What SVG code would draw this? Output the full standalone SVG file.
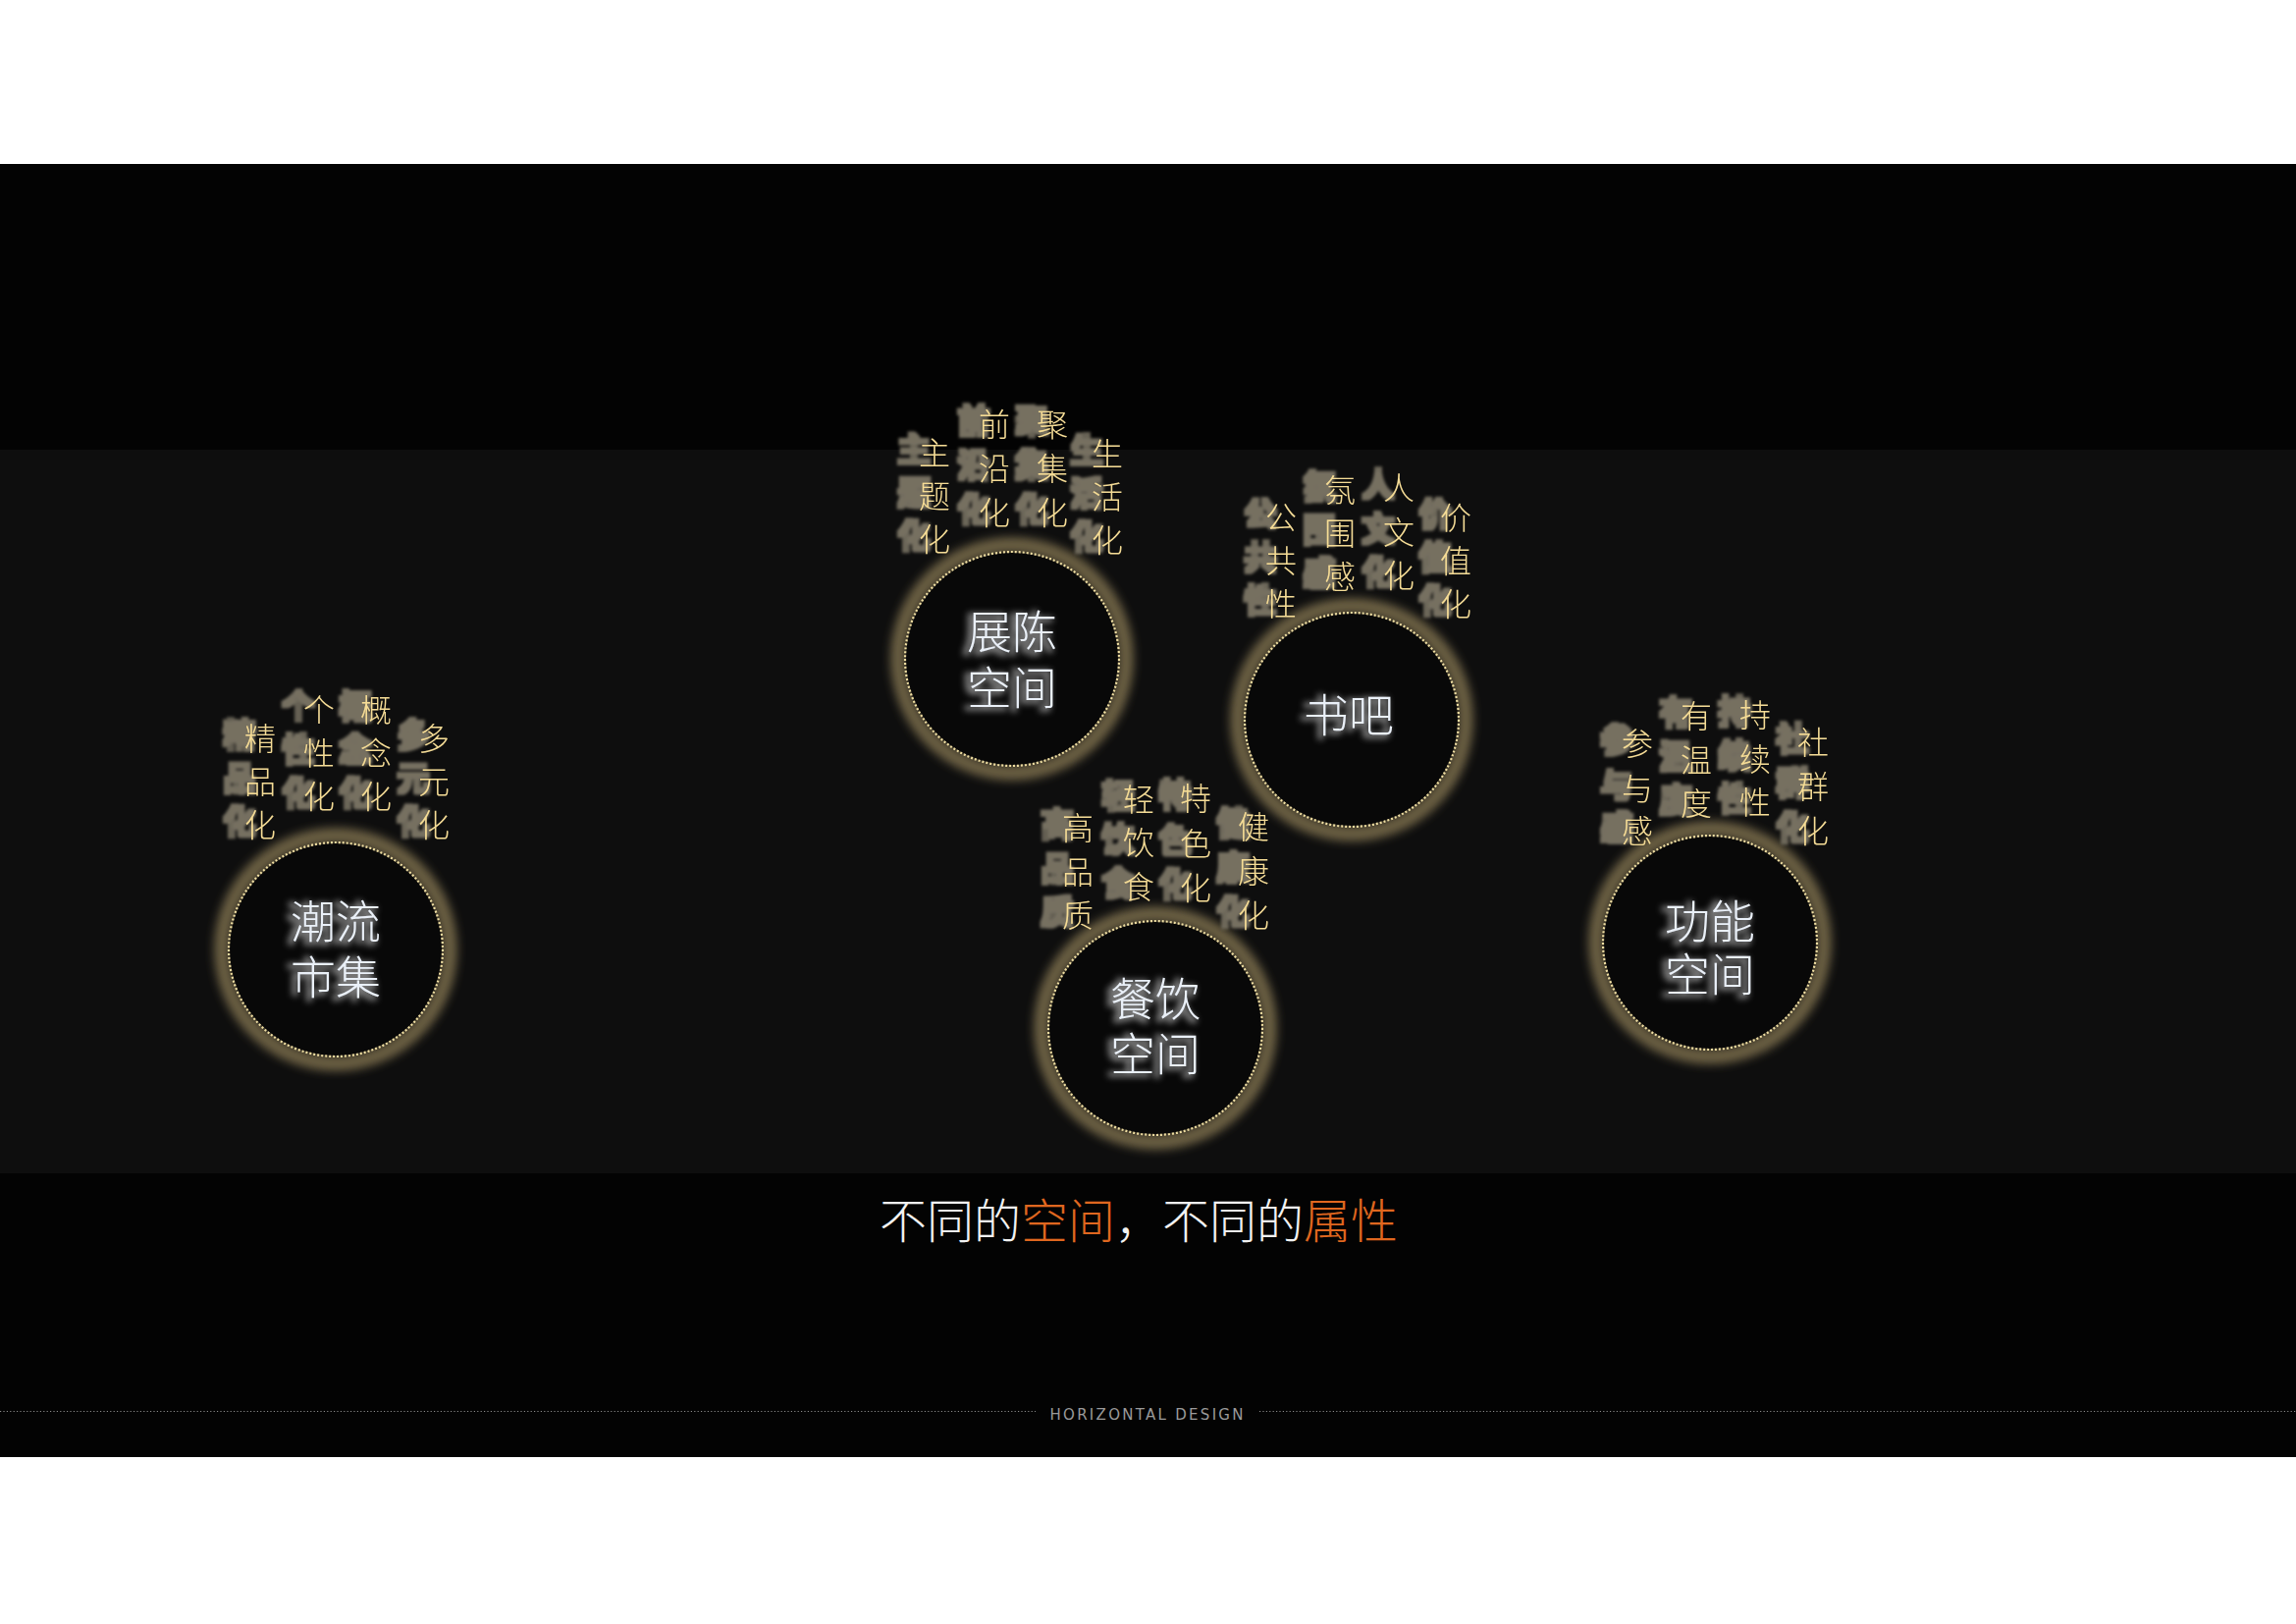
<svg xmlns="http://www.w3.org/2000/svg" width="2339" height="1654" viewBox="0 0 2339 1654">
<defs>
<style>
.kw{font-family:"Noto Sans CJK SC","Noto Sans CJK JP",sans-serif;font-size:32px;font-weight:300;fill:#f5dc96;text-anchor:middle;filter:url(#kwShadow)}
.lbl{font-family:"Noto Sans CJK SC","Noto Sans CJK JP",sans-serif;font-size:46px;font-weight:300;fill:#eaf0f8;text-anchor:middle;filter:url(#lblGlow)}
.glow{fill:none;stroke:#6a5e42;stroke-width:16;filter:url(#ringGlow)}
.disc{fill:#080808}
.ring{fill:none;stroke:#efdea2;stroke-width:2.2;stroke-dasharray:2 2}
.title{font-family:"Noto Sans CJK SC","Noto Sans CJK JP",sans-serif;font-size:48px;font-weight:300;fill:#f2f2f2;text-anchor:middle}
.org{fill:#e0671f}
.foot{font-family:"DejaVu Sans","Liberation Sans",sans-serif;font-size:15px;fill:#9a9a9a;text-anchor:middle}
.dots{stroke:#8a8a8a;stroke-width:1.2;stroke-dasharray:1.2 2.2}
</style>
<filter id="kwShadow" x="-150%" y="-20%" width="300%" height="140%">
<feMorphology in="SourceAlpha" operator="dilate" radius="3" result="d"/>
<feGaussianBlur in="d" stdDeviation="1.8" result="b"/>
<feOffset in="b" dx="-21" dy="-4" result="o"/>
<feFlood flood-color="#767061"/>
<feComposite in2="o" operator="in" result="s"/>
<feMerge><feMergeNode in="s"/><feMergeNode in="SourceGraphic"/></feMerge>
</filter>
<filter id="lblGlow" x="-30%" y="-40%" width="160%" height="180%">
<feMorphology in="SourceAlpha" operator="dilate" radius="2" result="d"/>
<feGaussianBlur in="d" stdDeviation="3" result="b"/>
<feOffset in="b" dx="-4" dy="2" result="o"/>
<feFlood flood-color="#9a9a9a" flood-opacity="0.75"/>
<feComposite in2="o" operator="in" result="s"/>
<feMerge><feMergeNode in="s"/><feMergeNode in="SourceGraphic"/></feMerge>
</filter>
<filter id="ringGlow" x="-30%" y="-30%" width="160%" height="160%">
<feGaussianBlur stdDeviation="5"/>
</filter>
</defs>

<rect width="2339" height="1654" fill="#ffffff"/>
<rect y="167" width="2339" height="1317" fill="#030303"/>
<rect y="458" width="2339" height="737" fill="#0e0e0e"/>

<g id="connectors"></g>

<g id="node-zhanchen">
<circle cx="1031" cy="671" r="116" class="glow"/>
<circle cx="1031" cy="671" r="108" class="disc"/>
<circle cx="1031" cy="671" r="109" class="ring"/>
<text class="lbl" x="1031" y="660">展陈<tspan x="1031" dy="57">空间</tspan></text>
<text class="kw" x="952" y="473">主<tspan x="952" dy="44">题</tspan><tspan x="952" dy="44">化</tspan></text>
<text class="kw" x="1013" y="444">前<tspan x="1013" dy="45">沿</tspan><tspan x="1013" dy="45">化</tspan></text>
<text class="kw" x="1072" y="444">聚<tspan x="1072" dy="45">集</tspan><tspan x="1072" dy="45">化</tspan></text>
<text class="kw" x="1128" y="474">生<tspan x="1128" dy="44">活</tspan><tspan x="1128" dy="44">化</tspan></text>
</g>

<g id="node-shuba">
<circle cx="1377" cy="733" r="116" class="glow"/>
<circle cx="1377" cy="733" r="108" class="disc"/>
<circle cx="1377" cy="733" r="109" class="ring"/>
<text class="lbl" x="1374" y="745">书吧</text>
<text class="kw" x="1305" y="539">公<tspan x="1305" dy="44">共</tspan><tspan x="1305" dy="44">性</tspan></text>
<text class="kw" x="1365" y="511">氛<tspan x="1365" dy="44">围</tspan><tspan x="1365" dy="44">感</tspan></text>
<text class="kw" x="1425" y="509">人<tspan x="1425" dy="45">文</tspan><tspan x="1425" dy="44">化</tspan></text>
<text class="kw" x="1483" y="539">价<tspan x="1483" dy="44">值</tspan><tspan x="1483" dy="44">化</tspan></text>
</g>

<g id="node-chaoliu">
<circle cx="342" cy="967" r="116" class="glow"/>
<circle cx="342" cy="967" r="108" class="disc"/>
<circle cx="342" cy="967" r="109" class="ring"/>
<text class="lbl" x="342" y="955">潮流<tspan x="342" dy="57">市集</tspan></text>
<text class="kw" x="265" y="764">精<tspan x="265" dy="44">品</tspan><tspan x="265" dy="44">化</tspan></text>
<text class="kw" x="325" y="735">个<tspan x="325" dy="44">性</tspan><tspan x="325" dy="44">化</tspan></text>
<text class="kw" x="383" y="735">概<tspan x="383" dy="44">念</tspan><tspan x="383" dy="44">化</tspan></text>
<text class="kw" x="442" y="764">多<tspan x="442" dy="44">元</tspan><tspan x="442" dy="44">化</tspan></text>
</g>

<g id="node-canyin">
<circle cx="1177" cy="1047" r="116" class="glow"/>
<circle cx="1177" cy="1047" r="108" class="disc"/>
<circle cx="1177" cy="1047" r="109" class="ring"/>
<text class="lbl" x="1177" y="1034">餐饮<tspan x="1177" dy="56">空间</tspan></text>
<text class="kw" x="1098" y="855">高<tspan x="1098" dy="45">品</tspan><tspan x="1098" dy="44">质</tspan></text>
<text class="kw" x="1160" y="826">轻<tspan x="1160" dy="44">饮</tspan><tspan x="1160" dy="45">食</tspan></text>
<text class="kw" x="1218" y="825">特<tspan x="1218" dy="46">色</tspan><tspan x="1218" dy="45">化</tspan></text>
<text class="kw" x="1277" y="854">健<tspan x="1277" dy="45">康</tspan><tspan x="1277" dy="45">化</tspan></text>
</g>

<g id="node-gongneng">
<circle cx="1742" cy="960" r="116" class="glow"/>
<circle cx="1742" cy="960" r="108" class="disc"/>
<circle cx="1742" cy="960" r="109" class="ring"/>
<text class="lbl" x="1742" y="955">功能<tspan x="1742" dy="54">空间</tspan></text>
<text class="kw" x="1668" y="769">参<tspan x="1668" dy="46">与</tspan><tspan x="1668" dy="43">感</tspan></text>
<text class="kw" x="1728" y="741">有<tspan x="1728" dy="45">温</tspan><tspan x="1728" dy="44">度</tspan></text>
<text class="kw" x="1788" y="740">持<tspan x="1788" dy="45">续</tspan><tspan x="1788" dy="44">性</tspan></text>
<text class="kw" x="1847" y="768">社<tspan x="1847" dy="45">群</tspan><tspan x="1847" dy="45">化</tspan></text>
</g>

<g id="title">
<text class="title" x="1160" y="1261">不同的<tspan class="org">空间</tspan>，不同的<tspan class="org">属性</tspan></text>
</g>

<g id="footer">
<line class="dots" x1="0" y1="1437.5" x2="1055" y2="1437.5"/>
<line class="dots" x1="1283" y1="1437.5" x2="2339" y2="1437.5"/>
<text class="foot" x="1168" y="1446" textLength="197" lengthAdjust="spacing">HORIZONTAL DESIGN</text>
</g>
</svg>
